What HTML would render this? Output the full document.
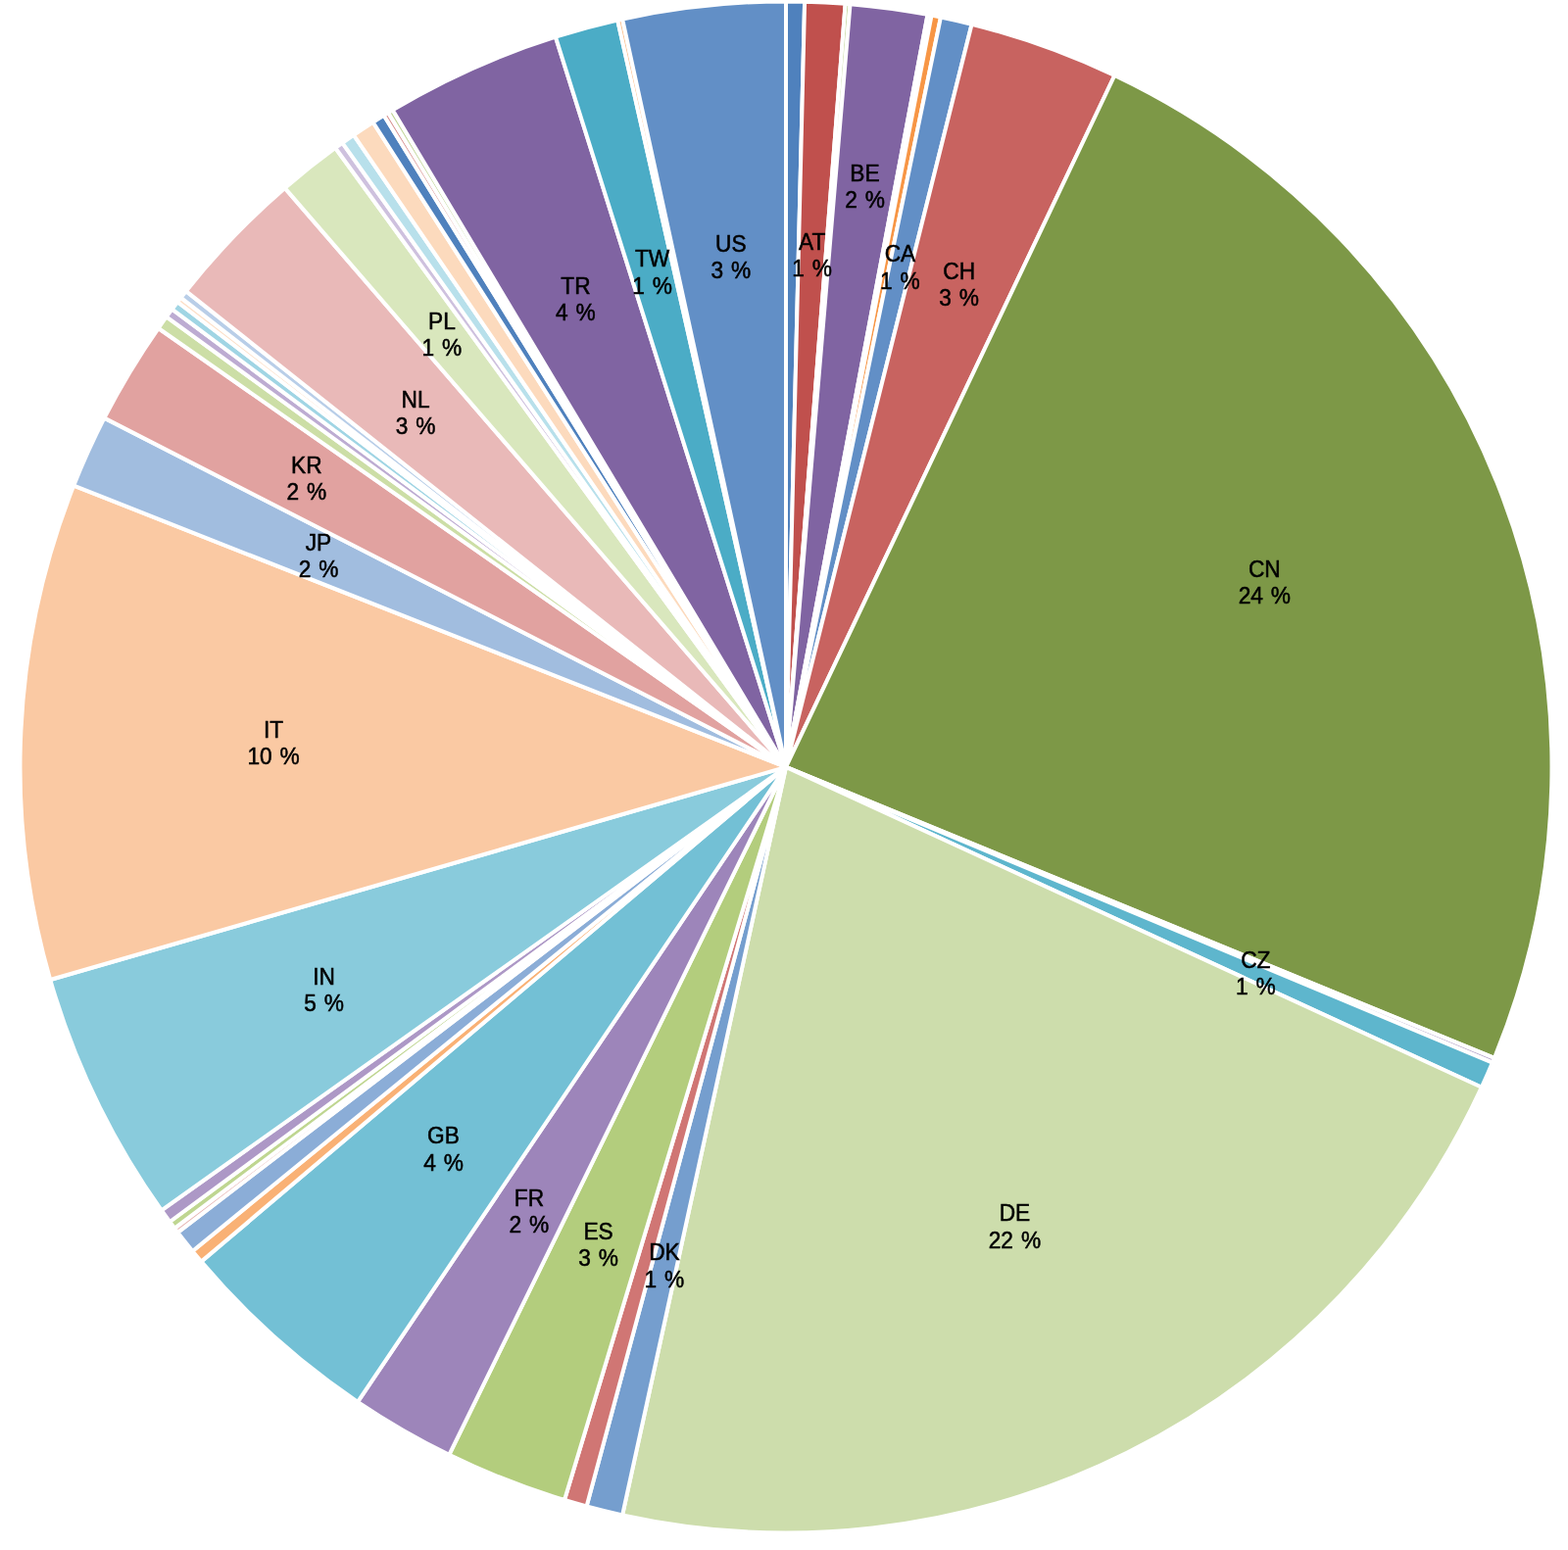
<!DOCTYPE html>
<html lang="en"><head><meta charset="utf-8"><title>Pie chart</title>
<style>html,body{margin:0;padding:0;background:#fff}body{width:1600px;height:1582px;overflow:hidden}svg{display:block}text{font-family:"Liberation Sans",Arial,Helvetica,sans-serif;font-size:22.7px;fill:#000;text-anchor:middle;stroke:#000;stroke-width:0.5px;word-spacing:1.6px}</style></head><body>
<svg width="1600" height="1582" viewBox="0 0 1600 1582">
<rect width="1600" height="1582" fill="#fff"/>
<g stroke="#fff" stroke-width="4.0" stroke-linejoin="bevel">
<path fill="#4F81BD" d="M802.00 782.90L802.00 1.40A781.5 781.5 0 0 1 821.09 1.63Z"/>
<path fill="#C0504D" d="M802.00 782.90L821.09 1.63A781.5 781.5 0 0 1 862.64 3.76Z"/>
<path fill="#C3D69B" d="M802.00 782.90L862.64 3.76A781.5 781.5 0 0 1 867.53 4.15Z"/>
<path fill="#8064A2" d="M802.00 782.90L867.53 4.15A781.5 781.5 0 0 1 946.56 14.89Z"/>
<path fill="#93CDDD" d="M802.00 782.90L946.56 14.89A781.5 781.5 0 0 1 950.58 15.65Z"/>
<path fill="#F79646" d="M802.00 782.90L950.58 15.65A781.5 781.5 0 0 1 959.94 17.53Z"/>
<path fill="#628FC6" d="M802.00 782.90L959.94 17.53A781.5 781.5 0 0 1 991.59 24.75Z"/>
<path fill="#C86360" d="M802.00 782.90L991.59 24.75A781.5 781.5 0 0 1 1137.34 77.00Z"/>
<path fill="#7D9847" d="M802.00 782.90L1137.34 77.00A781.5 781.5 0 0 1 1524.84 1079.95Z"/>
<path fill="#BBACCE" d="M802.00 782.90L1524.84 1079.95A781.5 781.5 0 0 1 1522.91 1084.61Z"/>
<path fill="#5EB6CD" d="M802.00 782.90L1522.91 1084.61A781.5 781.5 0 0 1 1511.89 1109.71Z"/>
<path fill="#CDDDAC" d="M802.00 782.90L1511.89 1109.71A781.5 781.5 0 0 1 635.12 1546.37Z"/>
<path fill="#759ECE" d="M802.00 782.90L635.12 1546.37A781.5 781.5 0 0 1 598.55 1537.45Z"/>
<path fill="#D07674" d="M802.00 782.90L598.55 1537.45A781.5 781.5 0 0 1 575.99 1531.01Z"/>
<path fill="#B3CD7D" d="M802.00 782.90L575.99 1531.01A781.5 781.5 0 0 1 458.31 1484.77Z"/>
<path fill="#9D85BA" d="M802.00 782.90L458.31 1484.77A781.5 781.5 0 0 1 364.99 1430.79Z"/>
<path fill="#73C0D5" d="M802.00 782.90L364.99 1430.79A781.5 781.5 0 0 1 205.36 1287.64Z"/>
<path fill="#F9B175" d="M802.00 782.90L205.36 1287.64A781.5 781.5 0 0 1 196.47 1276.94Z"/>
<path fill="#8BADD7" d="M802.00 782.90L196.47 1276.94A781.5 781.5 0 0 1 181.41 1257.89Z"/>
<path fill="#E8BAB8" d="M802.00 782.90L181.41 1257.89A781.5 781.5 0 0 1 178.19 1253.65Z"/>
<path fill="#BFD691" d="M802.00 782.90L178.19 1253.65A781.5 781.5 0 0 1 173.22 1246.99Z"/>
<path fill="#AD98C6" d="M802.00 782.90L173.22 1246.99A781.5 781.5 0 0 1 164.74 1235.27Z"/>
<path fill="#89CBDC" d="M802.00 782.90L164.74 1235.27A781.5 781.5 0 0 1 51.26 1000.01Z"/>
<path fill="#FAC9A3" d="M802.00 782.90L51.26 1000.01A781.5 781.5 0 0 1 75.23 495.59Z"/>
<path fill="#A1BDDF" d="M802.00 782.90L75.23 495.59A781.5 781.5 0 0 1 106.42 426.65Z"/>
<path fill="#E1A2A0" d="M802.00 782.90L106.42 426.65A781.5 781.5 0 0 1 161.60 334.99Z"/>
<path fill="#CCDEA6" d="M802.00 782.90L161.60 334.99A781.5 781.5 0 0 1 169.83 323.44Z"/>
<path fill="#BDACD2" d="M802.00 782.90L169.83 323.44A781.5 781.5 0 0 1 175.58 315.64Z"/>
<path fill="#A0D5E4" d="M802.00 782.90L175.58 315.64A781.5 781.5 0 0 1 181.16 308.24Z"/>
<path fill="#FDE0C9" d="M802.00 782.90L181.16 308.24A781.5 781.5 0 0 1 184.58 303.81Z"/>
<path fill="#B9CEE8" d="M802.00 782.90L184.58 303.81A781.5 781.5 0 0 1 189.80 297.15Z"/>
<path fill="#E9B9B8" d="M802.00 782.90L189.80 297.15A781.5 781.5 0 0 1 290.63 191.93Z"/>
<path fill="#D9E7BD" d="M802.00 782.90L290.63 191.93A781.5 781.5 0 0 1 342.20 150.97Z"/>
<path fill="#CEC1DE" d="M802.00 782.90L342.20 150.97A781.5 781.5 0 0 1 349.40 145.80Z"/>
<path fill="#B8E0EB" d="M802.00 782.90L349.40 145.80A781.5 781.5 0 0 1 360.93 137.77Z"/>
<path fill="#FCDABD" d="M802.00 782.90L360.93 137.77A781.5 781.5 0 0 1 380.61 124.74Z"/>
<path fill="#4F81BD" d="M802.00 782.90L380.61 124.74A781.5 781.5 0 0 1 391.69 117.78Z"/>
<path fill="#D99694" d="M802.00 782.90L391.69 117.78A781.5 781.5 0 0 1 396.11 115.07Z"/>
<path fill="#C3D69B" d="M802.00 782.90L396.11 115.07A781.5 781.5 0 0 1 400.67 112.32Z"/>
<path fill="#8064A2" d="M802.00 782.90L400.67 112.32A781.5 781.5 0 0 1 566.87 37.61Z"/>
<path fill="#4BACC6" d="M802.00 782.90L566.87 37.61A781.5 781.5 0 0 1 630.19 20.52Z"/>
<path fill="#FAC090" d="M802.00 782.90L630.19 20.52A781.5 781.5 0 0 1 635.12 19.43Z"/>
<path fill="#628FC6" d="M802.00 782.90L635.12 19.43A781.5 781.5 0 0 1 802.00 1.40Z"/>
</g>
<g>
<text transform="translate(828.7 254.9) scale(1 1.03)">AT</text><text transform="translate(828.7 282.1) scale(1 1.03)">1 %</text>
<text transform="translate(882.5 185.1) scale(1 1.03)">BE</text><text transform="translate(882.5 212.3) scale(1 1.03)">2 %</text>
<text transform="translate(918.4 267.3) scale(1 1.03)">CA</text><text transform="translate(918.4 294.5) scale(1 1.03)">1 %</text>
<text transform="translate(978.7 284.9) scale(1 1.03)">CH</text><text transform="translate(978.7 312.1) scale(1 1.03)">3 %</text>
<text transform="translate(1290.3 589.0) scale(1 1.03)">CN</text><text transform="translate(1290.3 616.2) scale(1 1.03)">24 %</text>
<text transform="translate(1281.3 988.2) scale(1 1.03)">CZ</text><text transform="translate(1281.3 1015.4) scale(1 1.03)">1 %</text>
<text transform="translate(1035.4 1246.3) scale(1 1.03)">DE</text><text transform="translate(1035.4 1273.5) scale(1 1.03)">22 %</text>
<text transform="translate(677.9 1286.3) scale(1 1.03)">DK</text><text transform="translate(677.9 1313.5) scale(1 1.03)">1 %</text>
<text transform="translate(610.6 1264.9) scale(1 1.03)">ES</text><text transform="translate(610.6 1292.1) scale(1 1.03)">3 %</text>
<text transform="translate(539.9 1230.9) scale(1 1.03)">FR</text><text transform="translate(539.9 1258.1) scale(1 1.03)">2 %</text>
<text transform="translate(452.5 1167.4) scale(1 1.03)">GB</text><text transform="translate(452.5 1194.6) scale(1 1.03)">4 %</text>
<text transform="translate(330.5 1005.1) scale(1 1.03)">IN</text><text transform="translate(330.5 1032.3) scale(1 1.03)">5 %</text>
<text transform="translate(279.1 752.9) scale(1 1.03)">IT</text><text transform="translate(279.1 780.1) scale(1 1.03)">10 %</text>
<text transform="translate(325.0 561.9) scale(1 1.03)">JP</text><text transform="translate(325.0 589.1) scale(1 1.03)">2 %</text>
<text transform="translate(312.8 483.2) scale(1 1.03)">KR</text><text transform="translate(312.8 510.4) scale(1 1.03)">2 %</text>
<text transform="translate(424.0 415.5) scale(1 1.03)">NL</text><text transform="translate(424.0 442.7) scale(1 1.03)">3 %</text>
<text transform="translate(450.9 335.6) scale(1 1.03)">PL</text><text transform="translate(450.9 362.8) scale(1 1.03)">1 %</text>
<text transform="translate(587.4 300.2) scale(1 1.03)">TR</text><text transform="translate(587.4 327.4) scale(1 1.03)">4 %</text>
<text transform="translate(665.6 272.3) scale(1 1.03)">TW</text><text transform="translate(665.6 299.5) scale(1 1.03)">1 %</text>
<text transform="translate(745.8 257.2) scale(1 1.03)">US</text><text transform="translate(745.8 284.4) scale(1 1.03)">3 %</text>
</g>
</svg></body></html>
